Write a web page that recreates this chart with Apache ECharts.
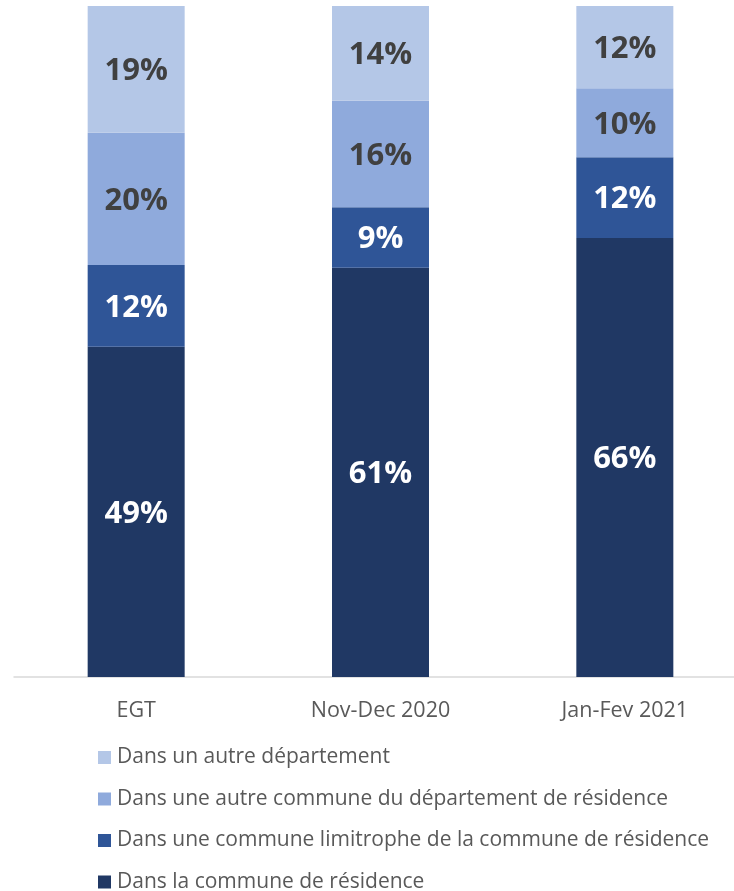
<!DOCTYPE html>
<html><head><meta charset="utf-8">
<script src="https://cdn.jsdelivr.net/npm/echarts@6/dist/echarts.min.js"></script>
<style>html,body{margin:0;padding:0;background:#fff}#c{width:734px;height:891px}</style>
</head><body><div id="c"></div>
<script>
const categories = ["EGT", "Nov-Dec 2020", "Jan-Fev 2021"];
const seriesNames = [
  "Dans la commune de résidence",
  "Dans une commune limitrophe de la commune de résidence",
  "Dans une autre commune du département de résidence",
  "Dans un autre département"
];
// bar heights as measured on the picture
const communeResidence = [49.23, 61.0, 65.42];
const communeLimitrophe = [12.17, 9.0, 12.03];
const autreCommuneDept = [19.72, 15.89, 10.28];
const autreDepartement = [18.88, 14.11, 12.27];
// printed labels
const labelsResidence = [49, 61, 66];
const labelsLimitrophe = [12, 9, 12];
const labelsAutreCommune = [20, 16, 10];
const labelsAutreDept = [19, 14, 12];
const colors = ["#203864", "#2F5597", "#8FAADC", "#B4C7E7"];
const labelColors = ["#ffffff", "#ffffff", "#404040", "#404040"];
const values = [communeResidence, communeLimitrophe, autreCommuneDept, autreDepartement];
const labels = [labelsResidence, labelsLimitrophe, labelsAutreCommune, labelsAutreDept];

const chart = echarts.init(document.getElementById('c'), null, {renderer: 'canvas'});
const font = "'Open Sans', sans-serif";
chart.setOption({
  animation: false,
  grid: {left: 14, width: 733, top: 6, bottom: 214, outerBoundsMode: 'none'},
  legend: {
    data: seriesNames.slice().reverse(),
    orient: 'vertical', left: 93, top: 742, height: 149, width: 640,
    itemWidth: 13, itemHeight: 13, itemGap: 20.5,
    icon: 'rect',
    textStyle: {fontFamily: font, fontSize: 21, color: '#595959', padding: [0,0,0,1]}
  },
  xAxis: {
    type: 'category', data: categories,
    axisLine: {lineStyle: {color: '#d9d9d9', width: 1.5}},
    axisTick: {show: false},
    axisLabel: {fontFamily: font, fontSize: 21.5, color: '#595959', margin: 23}
  },
  yAxis: {type: 'value', min: 0, max: 100, show: false, splitLine: {show: false}},
  series: values.map((v, i) => ({
    name: seriesNames[i], type: 'bar', stack: 'total', data: v,
    barWidth: 97,
    itemStyle: {color: colors[i]},
    label: {show: true, position: 'inside', offset: [0, 2],
      formatter: p => labels[i][p.dataIndex] + '%',
      fontFamily: font, fontWeight: 'bold', fontSize: 31, color: labelColors[i]}
  }))
});
</script></body></html>
